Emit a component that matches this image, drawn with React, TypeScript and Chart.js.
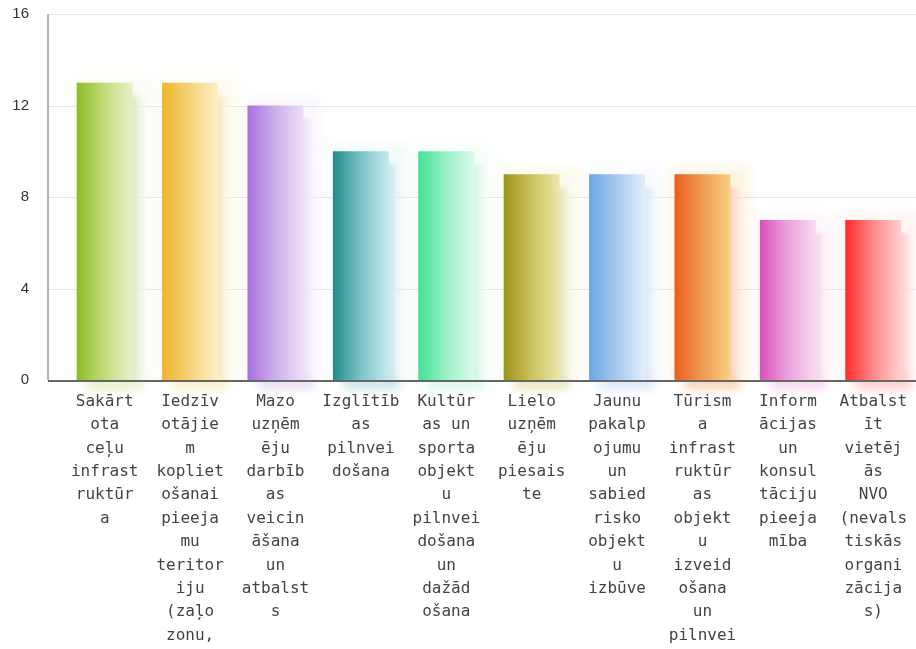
import React, { useEffect, useRef } from 'react';
import { Chart, registerables } from 'chart.js';

Chart.register(...registerables);

const categories: string[][] = [
  ['Sakārt', 'ota', 'ceļu', 'infrast', 'ruktūr', 'a'],
  ['Iedzīv', 'otājie', 'm', 'kopliet', 'ošanai', 'pieeja', 'mu', 'teritor', 'iju', '(zaļo', 'zonu,'],
  ['Mazo', 'uzņēm', 'ēju', 'darbīb', 'as', 'veicin', 'āšana', 'un', 'atbalst', 's'],
  ['Izglītīb', 'as', 'pilnvei', 'došana'],
  ['Kultūr', 'as un', 'sporta', 'objekt', 'u', 'pilnvei', 'došana', 'un', 'dažād', 'ošana'],
  ['Lielo', 'uzņēm', 'ēju', 'piesais', 'te'],
  ['Jaunu', 'pakalp', 'ojumu', 'un', 'sabied', 'risko', 'objekt', 'u', 'izbūve'],
  ['Tūrism', 'a', 'infrast', 'ruktūr', 'as', 'objekt', 'u', 'izveid', 'ošana', 'un', 'pilnvei', 'došana'],
  ['Inform', 'ācijas', 'un', 'konsul', 'tāciju', 'pieeja', 'mība'],
  ['Atbalst', 'īt', 'vietēj', 'ās', 'NVO', '(nevals', 'tiskās', 'organi', 'zācija', 's)'],
];

const values: number[] = [13, 13, 12, 10, 10, 9, 9, 9, 7, 7];

const yTicks: number[] = [0, 4, 8, 12, 16];

const barStart: string[] = ['#8cbc22', '#f0b42a', '#a86ee0', '#1f8b8b', '#3fe394', '#9a9119', '#6ba5e5', '#e85d1d', '#d651b9', '#ff2a2a'];
const barMid: string[] = ['#c4dc7c', '#f5d47c', '#cdb0ec', '#7cc4c6', '#9cefc6', '#ccc35f', '#a9c9f0', '#f09a52', '#eca2dd', '#ff8a8a'];
const barEnd: string[] = ['#e6f0cc', '#fdefc6', '#ece0f8', '#c6eaee', '#dcf9ea', '#ebe7ab', '#e2eef9', '#f8d283', '#f8dbf1', '#ffd2d2'];
const shadowCol: string[] = ['#e1eacb', '#fae9c0', '#eee0f7', '#cbe7eb', '#d6f5e5', '#e7e3bd', '#dae9f5', '#fad2c2', '#f4d6ee', '#ffcccc'];

const BAR_FRACTION = 0.656;
const AXIS_GAP = 14;

const fxPlugin = {
  id: 'fx',
  beforeDatasetsDraw(chart: any) {
    const ctx: CanvasRenderingContext2D = chart.ctx;
    const ys = chart.scales.y;
    const area = chart.chartArea;
    const axisX = area.left - AXIS_GAP;
    ctx.save();
    ctx.strokeStyle = '#e6e6e6';
    ctx.lineWidth = 1;
    ys.ticks.forEach((t: any) => {
      if (t.value === 0) return;
      const py = Math.round(ys.getPixelForValue(t.value)) + 0.5;
      ctx.beginPath();
      ctx.moveTo(axisX, py);
      ctx.lineTo(area.right, py);
      ctx.stroke();
    });
    const meta = chart.getDatasetMeta(0);
    meta.data.forEach((bar: any, i: number) => {
      const p = bar.getProps(['x', 'y', 'base', 'width'], true);
      const left = p.x - p.width / 2;
      const top = p.y;
      const base = p.base;
      const w = p.width;
      // soft halo
      ctx.save();
      ctx.filter = 'blur(6px)';
      ctx.globalAlpha = 0.22;
      ctx.fillStyle = barEnd[i];
      ctx.fillRect(left - 4, top - 7, w + 24, base - top + 7);
      ctx.restore();
      // offset shadow
      const dx = 16;
      const dy = 13;
      ctx.save();
      ctx.filter = 'blur(2px)';
      const g = ctx.createLinearGradient(left + dx, 0, left + dx + w, 0);
      g.addColorStop(0, shadowCol[i]);
      g.addColorStop(0.75, shadowCol[i]);
      g.addColorStop(1, 'rgba(255,255,255,0)');
      ctx.fillStyle = g;
      ctx.fillRect(left + dx, top + dy, w, base - top - dy);
      ctx.restore();
      // reflection under the axis
      ctx.save();
      ctx.filter = 'blur(4px)';
      ctx.globalAlpha = 0.45;
      ctx.fillStyle = barMid[i];
      ctx.fillRect(left + 10, base, w, 9);
      ctx.restore();
    });
    ctx.restore();
  },
  afterDatasetsDraw(chart: any) {
    const ctx: CanvasRenderingContext2D = chart.ctx;
    const area = chart.chartArea;
    const axisX = area.left - AXIS_GAP;
    ctx.save();
    ctx.strokeStyle = '#9a9a9a';
    ctx.lineWidth = 1.5;
    ctx.beginPath();
    ctx.moveTo(axisX, area.top);
    ctx.lineTo(axisX, area.bottom);
    ctx.stroke();
    ctx.strokeStyle = '#666';
    ctx.lineWidth = 2;
    ctx.beginPath();
    ctx.moveTo(axisX, area.bottom + 1);
    ctx.lineTo(area.right, area.bottom + 1);
    ctx.stroke();
    ctx.restore();
  },
};

export default function App() {
  const ref = useRef<HTMLCanvasElement | null>(null);

  useEffect(() => {
    if (!ref.current) return;
    const chart = new Chart(ref.current, {
      type: 'bar',
      data: {
        labels: categories,
        datasets: [
          {
            data: values,
            barPercentage: BAR_FRACTION,
            categoryPercentage: 1,
            borderWidth: 0,
            backgroundColor: (c: any) => {
              const ch = c.chart;
              const i = c.dataIndex ?? 0;
              if (!ch.chartArea) return barStart[i];
              const xs = ch.scales.x;
              const cx = xs.getPixelForValue(i);
              const w = (xs.width / categories.length) * BAR_FRACTION;
              const g = ch.ctx.createLinearGradient(cx - w / 2, 0, cx + w / 2, 0);
              g.addColorStop(0, barStart[i]);
              g.addColorStop(0.5, barMid[i]);
              g.addColorStop(1, barEnd[i]);
              return g;
            },
          },
        ],
      },
      options: {
        responsive: false,
        maintainAspectRatio: false,
        animation: false,
        layout: { padding: { top: 14, left: 0, right: 0, bottom: 0 } },
        plugins: {
          legend: { display: false },
          tooltip: { enabled: false },
          title: { display: false },
        },
        scales: {
          x: {
            offset: true,
            grid: { display: false, drawTicks: false },
            border: { display: false },
            ticks: {
              autoSkip: false,
              maxRotation: 0,
              minRotation: 0,
              padding: 10,
              color: '#444',
              font: { family: '"DejaVu Sans Mono", monospace', size: 16, lineHeight: '23.4px' },
            },
            afterFit: (s: any) => {
              s.height = 320;
              s.paddingLeft = 0;
              s.paddingRight = 0;
              s.paddingTop = 0;
              s.paddingBottom = 0;
            },
          },
          y: {
            min: 0,
            max: 16,
            grid: { display: false, drawTicks: false },
            border: { display: false },
            afterBuildTicks: (s: any) => {
              s.ticks = yTicks.map((v) => ({ value: v }));
            },
            ticks: {
              padding: 33,
              color: '#333',
              font: { family: '"Liberation Sans", Arial, sans-serif', size: 15 },
            },
            afterFit: (s: any) => {
              s.width = 62;
              s.paddingTop = 0;
              s.paddingBottom = 0;
              s.paddingLeft = 0;
              s.paddingRight = 0;
            },
          },
        },
      },
      plugins: [fxPlugin],
    });
    return () => chart.destroy();
  }, []);

  return (
    <div
      style={{
        position: 'fixed',
        left: 0,
        top: 0,
        width: 916,
        height: 649,
        overflow: 'hidden',
        background: '#fff',
      }}
    >
      <canvas ref={ref} width={916} height={700} style={{ display: 'block' }} />
    </div>
  );
}
